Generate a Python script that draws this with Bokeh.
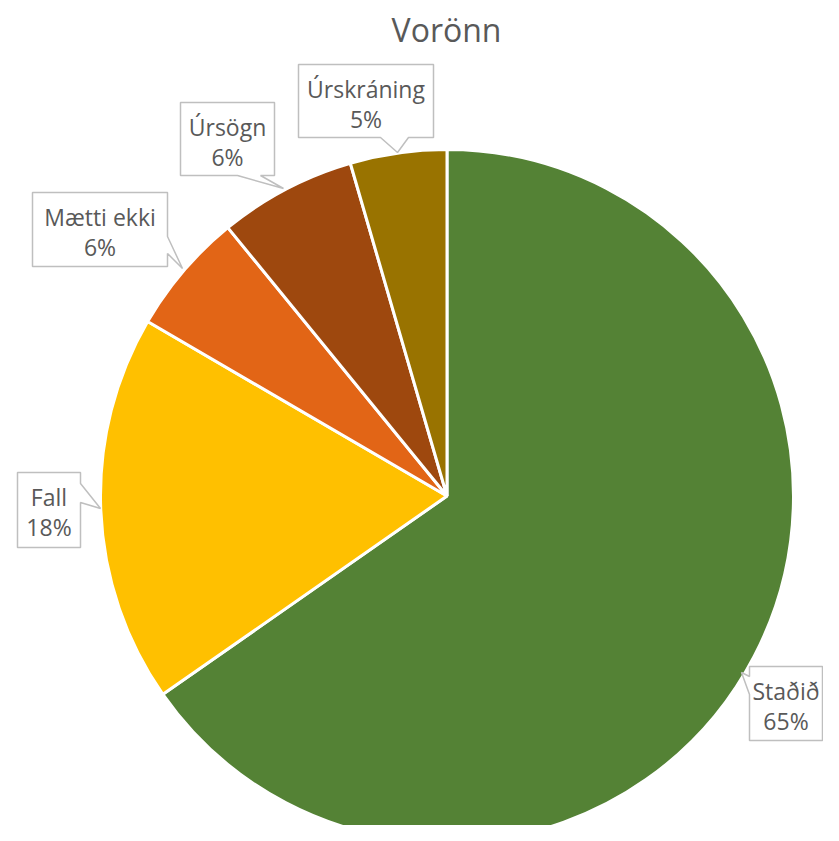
import math
from bokeh.plotting import figure
from bokeh.models import Range1d, ColumnDataSource
from bokeh.core.properties import value
from bokeh.embed import file_html
from bokeh.resources import INLINE

# ---- data ----
title_text = "Vorönn"
categories = ["Staðið", "Fall", "Mætti ekki", "Úrsögn", "Úrskráning"]
percent_values = [65.3, 18.1, 5.7, 6.4, 4.5]
colors = ["#548235", "#FFC000", "#E26516", "#9E480E", "#997300"]

# ---- layout ----
W, H = 823, 825
def px(X):  # picture x -> data x
    return X
def py(Y):  # picture y -> data y (upwards)
    return H - Y

CX, CY, R = 446.5, 495.5, 346.5  # pie centre / radius in picture pixels

# callout boxes: left, top, right, bottom, pointer (base1, tip, base2)
callouts = {
    "Staðið":     dict(box=(749, 666, 822, 740), ptr=[(749, 676), (741, 672), (749, 694)], side="left"),
    "Fall":       dict(box=(17, 472, 80, 547), ptr=[(80, 483), (100, 508), (80, 502)], side="right"),
    "Mætti ekki": dict(box=(32, 192, 167, 266), ptr=[(167, 236), (182, 268), (167, 253)], side="right"),
    "Úrsögn":     dict(box=(180, 102, 274, 175), ptr=[(260, 175), (283, 188), (237, 175)], side="bottom"),
    "Úrskráning": dict(box=(298, 64, 433, 137), ptr=[(408, 137), (397, 152), (380, 137)], side="bottom"),
}

p = figure(width=W, height=H, output_backend="svg", toolbar_location=None,
           x_axis_type=None, y_axis_type=None, min_border=0,
           x_range=Range1d(0, W), y_range=Range1d(0, H))
p.outline_line_color = None
p.grid.visible = False
p.background_fill_color = "white"
p.border_fill_color = "white"

# wedges, clockwise from top
total = sum(percent_values)
starts, ends = [], []
acc = 0.0
for v in percent_values:
    a0 = acc / total * 2 * math.pi
    acc += v
    a1 = acc / total * 2 * math.pi
    starts.append(math.pi / 2 - a0)
    ends.append(math.pi / 2 - a1)

src = ColumnDataSource(dict(start=starts, end=ends, color=colors, cat=categories))
p.wedge(x=px(CX), y=py(CY), radius=R, start_angle="start", end_angle="end",
        direction="clock", fill_color="color", line_color="white", line_width=3,
        source=src)

# callouts
xs, ys = [], []
for cat in categories:
    c = callouts[cat]
    l, t, r, b = c["box"]
    b1, tip, b2 = c["ptr"]
    if c["side"] == "bottom":
        pts = [(l, t), (r, t), (r, b), b1, tip, b2, (l, b)]
    elif c["side"] == "right":
        pts = [(l, t), (r, t), b1, tip, b2, (r, b), (l, b)]
    else:  # left
        pts = [(l, t), (r, t), (r, b), (l, b), b2, tip, b1]
    xs.append([px(a) for a, _ in pts])
    ys.append([py(bb) for _, bb in pts])
p.patches(xs=xs, ys=ys, fill_color="white", line_color="#BFBFBF", line_width=1.5)

tx, ty, tt = [], [], []
for cat, v in zip(categories, percent_values):
    l, t, r, b = callouts[cat]["box"]
    cx = (l + r) / 2
    tx += [px(cx), px(cx)]
    ty += [py(t + 24), py(t + 54)]
    tt += [cat, f"{int(v / total * 100 + 0.5)}%"]
p.text(x=tx, y=ty, text=tt, text_font=value("Open Sans"), text_font_size="23px",
       text_color="#595959", text_align="center", text_baseline="alphabetic")

p.text(x=[px(446)], y=[py(29)], text=[title_text], text_font=value("Open Sans"),
       text_font_size="32px", text_color="#595959", text_align="center",
       text_baseline="alphabetic")

open("out.html", "w").write(file_html(p, INLINE))
